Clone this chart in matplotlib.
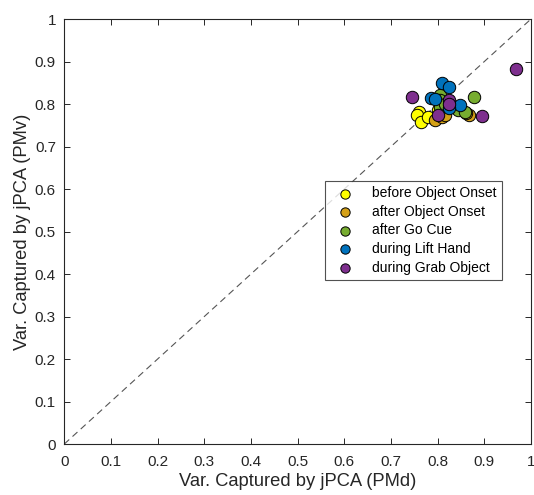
import matplotlib.pyplot as plt

plt.rcParams['font.family'] = ['Liberation Sans', 'DejaVu Sans']

labels = ["before Object Onset", "after Object Onset", "after Go Cue",
          "during Lift Hand", "during Grab Object"]
colors = ["#FFFF00", "#D4A017", "#77AC30", "#0072BD", "#7E2F8E"]

pmd = [
    [0.759, 0.756, 0.765, 0.780, 0.800],
    [0.794, 0.810, 0.867, 0.860, 0.815],
    [0.878, 0.805, 0.805, 0.805, 0.843, 0.858, 0.815],
    [0.809, 0.824, 0.785, 0.848, 0.824, 0.795],
    [0.968, 0.745, 0.895, 0.800, 0.824, 0.824],
]
pmv = [
    [0.782, 0.773, 0.757, 0.770, 0.785],
    [0.762, 0.770, 0.774, 0.780, 0.775],
    [0.816, 0.821, 0.810, 0.792, 0.787, 0.782, 0.800],
    [0.850, 0.840, 0.813, 0.798, 0.790, 0.812],
    [0.882, 0.817, 0.772, 0.773, 0.809, 0.800],
]

fig = plt.figure(figsize=(5.34, 4.95), dpi=100)
ax = fig.add_axes([0.1204, 0.103, 0.874, 0.8586])

ax.plot([0, 1], [0, 1], "--", color="#555555", lw=0.8, dashes=(6, 4))
for xs, ys, c, lab in zip(pmd, pmv, colors, labels):
    ax.scatter(xs, ys, s=80, c=c, edgecolors="black", linewidths=0.7, label=lab, zorder=3)

ax.set_xlim(0, 1)
ax.set_ylim(0, 1)
ticks = [i / 10 for i in range(11)]
tick_labels = ["0", "0.1", "0.2", "0.3", "0.4", "0.5", "0.6", "0.7", "0.8", "0.9", "1"]
ax.set_xticks(ticks)
ax.set_xticklabels(tick_labels)
ax.set_yticks(ticks)
ax.set_yticklabels(tick_labels)
ax.tick_params(direction="in", top=True, right=True, labelsize=11, length=4,
               width=0.7, colors="#262626")
ax.tick_params(axis="x", pad=8)
ax.tick_params(axis="y", pad=6)
for sp in ax.spines.values():
    sp.set_linewidth(0.8)
    sp.set_color("#262626")
ax.set_xlabel("Var. Captured by jPCA (PMd)", fontsize=13.2, color="#262626", labelpad=3)
ax.set_ylabel("Var. Captured by jPCA (PMv)", fontsize=13.2, color="#262626", labelpad=3)

leg = ax.legend(loc="upper left", bbox_to_anchor=(0.558, 0.6195), borderaxespad=0,
                fontsize=10, frameon=True, fancybox=False, edgecolor="#262626",
                borderpad=0.4, handlelength=2.1, handletextpad=0.9,
                labelspacing=0.33, scatterpoints=1, markerscale=0.75)
leg.get_frame().set_linewidth(0.8)

fig.savefig("out.png", dpi=100)
